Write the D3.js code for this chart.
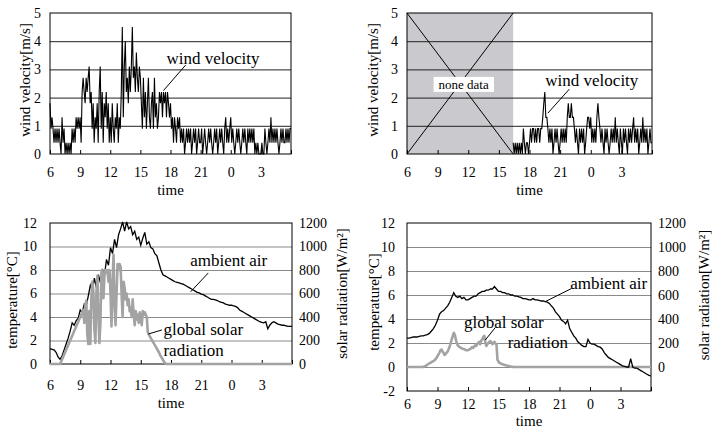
<!DOCTYPE html>
<html>
<head>
<meta charset="utf-8">
<script src="https://cdn.jsdelivr.net/npm/d3@7"></script>
<style>
  body { margin: 0; background: #fff; }
  svg { display: block; }
</style>
</head>
<body>
<svg id="chart" width="713" height="428"></svg>
<script>
// time axis (hours after midnight of day 1, 24 = 0:00 of day 2)
const hourTicks = [6, 9, 12, 15, 18, 21, 24, 27, 30];
const hourLabels = ["6", "9", "12", "15", "18", "21", "0", "3", ""];
const windTicks = [0, 1, 2, 3, 4, 5];
const tempTicksA = [0, 2, 4, 6, 8, 10, 12];
const tempTicksB = [-2, 0, 2, 4, 6, 8, 10, 12];
const solarTicks = [0, 200, 400, 600, 800, 1000, 1200];

// wind velocity [m/s], one sample per 0.1 h
const windStep = 0.1;
const windAStart = 6;
const windA = [
  1.8, 0.9, 1.3, 0.9, 0.4, 0.9, 0.4, 0.9, 0.4, 0.9,
  0.4, 0, 1.3, 0.4, 0.9, 0, 0.4, 0, 0.4, 0,
  0.4, 0, 0.9, 0.4, 0.9, 0.4, 1.3, 0.9, 1.3, 0.9,
  1.3, 0.4, 2.2, 2.7, 2.2, 1.8, 2.7, 2.2, 2.7, 3.1,
  1.8, 2.2, 0.9, 1.8, 0.4, 1.3, 0.9, 1.8, 0.4, 2.2,
  3.1, 0.9, 2.2, 0.4, 1.8, 1.3, 2.2, 0.9, 1.8, 0.4,
  1.3, 0.4, 1.8, 0.9, 0.4, 1.3, 0.9, 1.8, 0.4, 1.3,
  0.9, 2.2, 4.5, 1.3, 3.1, 4.0, 2.2, 2.7, 1.8, 3.1,
  2.2, 3.1, 4.5, 2.7, 3.1, 2.2, 3.6, 2.7, 2.2, 3.1,
  2.7, 1.8, 0.9, 2.7, 1.3, 2.2, 0.9, 1.8, 2.7, 1.3,
  0.9, 1.8, 2.2, 0.9, 2.7, 1.3, 1.8, 0.9, 1.3, 2.2,
  1.8, 2.2, 1.3, 2.2, 1.8, 2.2, 1.3, 2.2, 1.8, 1.3,
  1.8, 0.9, 1.3, 0.4, 1.3, 0.9, 0.4, 1.3, 0.9, 1.3,
  0.4, 0.9, 0.4, 0.9, 0, 0.4, 0.9, 0.4, 0.9, 0.4,
  0.9, 0, 0.4, 0.9, 0.4, 0.9, 0, 0.4, 0.9, 0.4,
  0.4, 0.9, 0, 0.4, 0.9, 0.4, 0, 0.4, 0.9, 0.4,
  0.9, 0.4, 0, 0.4, 0.9, 0.4, 0.9, 0, 0.4, 0.9,
  0.4, 0.9, 0.4, 0, 0.9, 1.3, 0.4, 0.9, 0.4, 0.9,
  1.3, 0.4, 0.9, 0.4, 0, 0.4, 0.9, 0.4, 0.9, 0.4,
  0, 0.4, 0.9, 0.4, 0.9, 0.4, 0, 0.9, 0.4, 0.9,
  0.4, 0.9, 0.4, 0.9, 0, 0.4, 0, 0.4, 0, 0,
  0, 0.4, 0, 0, 0.9, 0.4, 0, 0.4, 0.9, 0.4,
  1.3, 0.4, 0.9, 0.4, 0.9, 0.4, 0.9, 0.4, 0, 0.4,
  0.9, 0.4, 0.9, 0.4, 0.4, 0.9, 0.4, 0.9, 0.4, 0.9,
  0.9
];

// second day: no record before 16.4 h
const noneDataEnd = 16.4;
const windBStart = 16.4;
const windB = [
  0.4, 0, 0.4, 0, 0.4, 0,
  0.4, 0, 0.4, 0, 0.9, 0.4, 0, 0.4, 0.4, 0,
  0.4, 0.9, 0.4, 0.9, 0.9, 0.4, 0.9, 0.4, 0.9, 0.9,
  0.4, 0.9, 0.9, 1.3, 1.8, 2.2, 1.3, 1.3, 0.9, 0.4,
  0.9, 0.4, 0.9, 0, 0.4, 0.9, 0.4, 0.9, 0.4, 0,
  0.4, 0.9, 0.4, 0.9, 0.4, 0.9, 0.4, 1.3, 1.8, 1.3,
  1.3, 1.8, 1.3, 1.3, 0.9, 0.4, 0.9, 0.4, 0, 0.9,
  0.4, 0.9, 0.4, 0.9, 0, 0.4, 0.9, 1.3, 1.3, 0.9,
  1.3, 0.4, 0.9, 0.4, 0.9, 0.4, 1.3, 1.8, 1.3, 0.9,
  0.4, 0.9, 0.4, 0, 0.9, 0.4, 0.9, 0.4, 0, 0.4,
  0.9, 0.4, 0.9, 0.4, 1.3, 0.4, 0.9, 0.4, 0, 0.9,
  0.4, 0, 0.9, 0.4, 0.9, 0.4, 0, 0.9, 0.4, 0.9,
  0.4, 0.9, 1.3, 0.4, 0.9, 0.4, 0.9, 0, 0.4, 0.9,
  0.4, 1.3, 0.4, 0.9, 0.4, 0.9, 0, 0.4, 0.9, 0.4,
  0.4
];

// ambient air temperature [°C], one sample per 0.2 h from 6 h
const tempStep = 0.2;
const tempA = [
  1.3, 1.25, 1.2, 1.0, 0.6,
  0.4, 0.7, 1.2, 1.7, 2.2,
  2.8, 3.5, 3.3, 3.7, 3.9,
  4.6, 4.4, 5.1, 5.0, 5.8,
  6.7, 6.2, 7.3, 6.5, 7.6,
  6.9, 8.1, 7.5, 8.9, 8.4,
  9.9, 9.4, 10.6, 9.9, 11.0,
  11.5, 12.1, 11.3, 12.1, 11.5,
  11.7, 11.0, 11.3, 10.6, 10.8,
  10.1, 10.7, 11.2, 10.2, 10.4,
  9.9, 9.8, 9.4, 9.2, 8.6,
  8.0, 7.6, 7.5, 7.4, 7.3,
  7.2, 7.1, 7.0, 6.95, 6.9,
  6.85, 6.8, 6.7, 6.6, 6.5,
  6.4, 6.3, 6.2, 6.1, 6.05,
  5.95, 5.9, 5.8, 5.7, 5.6,
  5.5, 5.5, 5.45, 5.4, 5.3,
  5.25, 5.2, 5.1, 5.05, 5.0,
  5.0, 4.95, 4.9, 4.8, 4.6,
  4.5, 4.4, 4.3, 4.2, 4.1,
  4.0, 3.9, 3.8, 3.7, 3.6,
  3.55, 3.5, 3.6, 3.0, 3.3,
  3.5, 3.6, 3.5, 3.4, 3.35,
  3.3, 3.3, 3.25, 3.2, 3.2,
  3.2
];
const tempB = [
  2.4, 2.4, 2.45, 2.5, 2.5,
  2.5, 2.55, 2.6, 2.6, 2.65,
  2.7, 2.8, 3.0, 3.2, 3.5,
  3.9, 4.4, 4.6, 4.7, 4.9,
  5.1, 5.4, 5.8, 6.2, 5.9,
  5.8, 5.9, 5.7, 5.8, 5.6,
  5.6, 5.7, 5.8, 5.9, 5.9,
  6.1, 6.2, 6.3, 6.3, 6.4,
  6.4, 6.5, 6.5, 6.7, 6.5,
  6.3, 6.3, 6.2, 6.2, 6.1,
  6.1, 6.0, 6.0, 5.9, 5.9,
  5.85, 5.8, 5.7, 5.7, 5.65,
  5.6, 5.6, 5.7, 5.6, 5.6,
  5.55, 5.5, 5.5, 5.45, 5.4,
  5.3, 5.1, 4.9, 4.6, 4.4,
  4.2, 3.9, 3.8, 3.6, 3.9,
  3.2, 2.9, 2.6, 2.4, 2.1,
  1.95, 1.8, 1.7, 1.7, 2.3,
  2.0, 1.9, 1.9, 1.8, 1.7,
  1.65, 1.5, 1.2, 1.0, 0.8,
  0.7, 0.6, 0.5, 0.4, 0.3,
  0.2, 0.1, 0.05, 0.0, 0.0,
  0.7, 0.0, -0.1, -0.1, -0.2,
  -0.3, -0.4, -0.5, -0.6, -0.7,
  -0.75
];

// global solar radiation [W/m2], one sample per 0.1 h from 6 h, zero after
const solarStep = 0.1;
const solarEnd = 30;
const solarA = [
  0, 0, 0, 0, 0, 0, 0, 0, 0, 0,
  0, 20, 40, 60, 80, 100, 120, 140, 160, 180,
  200, 220, 240, 260, 280, 300, 320, 340, 360, 380,
  400, 420, 440, 460, 350, 500, 540, 250, 170, 450,
  170, 560, 700, 620, 300, 180, 600, 750, 400, 180,
  350, 780, 800, 560, 750, 800, 780, 800, 700, 800,
  600, 320, 700, 930, 500, 330, 600, 850, 800, 850,
  830, 600, 400, 700, 650, 550, 600, 500, 550, 450,
  480, 400, 550, 420, 330, 450, 380, 420, 350, 440,
  400, 330, 450, 420, 440, 420, 400, 270, 250, 235,
  220, 205, 190, 175, 160, 145, 130, 115, 100, 80,
  65, 50, 35, 20, 10, 0, 0, 0, 0, 0,
  0
];
const solarB = [
  0, 0, 0, 0, 0, 0, 0, 0, 0, 0,
  0, 0, 0, 0, 0, 0, 0, 5, 8, 12,
  20, 25, 30, 35, 40, 45, 50, 55, 65, 75,
  90, 105, 120, 140, 145, 130, 115, 100, 110, 120,
  130, 150, 170, 200, 230, 260, 285, 270, 230, 200,
  180, 170, 165, 160, 155, 150, 150, 145, 140, 140,
  140, 145, 150, 155, 165, 160, 170, 180, 175, 190,
  200, 210, 190, 220, 230, 250, 260, 210, 175, 190,
  200, 210, 215, 205, 190, 200, 210, 195, 190, 60,
  45, 35, 30, 25, 22, 20, 17, 15, 12, 10,
  8, 6, 4, 2, 1, 0, 0, 0, 0, 0,
  0
];

const FONT = '"Liberation Serif", "Times New Roman", serif';
const svg = d3.select("#chart");

function toPoints(values, start, step) {
  return values.map((v, i) => ({ t: start + i * step, v: v }));
}

function drawPanel(box, spec) {
  const w = box.right - box.left;
  const x = d3.scaleLinear().domain([6, 30]).range([box.left, box.right]);
  const y = d3.scaleLinear().domain(spec.yDomain).range([box.bottom, box.top]);
  const g = svg.append("g");

  if (spec.under) spec.under(g, x, y);

  // horizontal grid lines
  g.append("g")
    .attr("transform", "translate(" + box.left + ",0)")
    .call(d3.axisLeft(y)
      .tickValues(spec.yTicks.filter(d => d > spec.yDomain[0] && d < spec.yDomain[1]))
      .tickSize(-w).tickFormat(""))
    .call(a => a.select(".domain").remove())
    .selectAll("line").attr("stroke", spec.gridColor);

  // y tick labels
  g.append("g")
    .attr("transform", "translate(" + box.left + ",0)")
    .call(d3.axisLeft(y).tickValues(spec.yTicks).tickFormat(d => String(d))
      .tickSize(0).tickPadding(spec.yPad))
    .call(a => a.select(".domain").remove())
    .attr("font-family", FONT).attr("font-size", 14);

  // time axis, ticks pointing inwards
  g.append("g")
    .attr("transform", "translate(0," + box.bottom + ")")
    .call(d3.axisBottom(x).tickValues(hourTicks)
      .tickFormat((d, i) => hourLabels[i])
      .tickSizeInner(-4).tickSizeOuter(0).tickPadding(spec.xPad))
    .call(a => a.select(".domain").remove())
    .attr("font-family", FONT).attr("font-size", 14);

  // frame
  g.append("rect")
    .attr("x", box.left).attr("y", box.top)
    .attr("width", w).attr("height", box.bottom - box.top)
    .attr("fill", "none").attr("stroke", "#000");

  g.append("text")
    .attr("x", (box.left + box.right) / 2).attr("y", spec.timeY)
    .attr("dy", "0.35em").attr("text-anchor", "middle")
    .attr("font-family", FONT).attr("font-size", 15)
    .text("time");

  g.append("text")
    .attr("transform", "translate(" + spec.titleX + "," + spec.titleY + ")rotate(-90)")
    .attr("dy", "0.35em").attr("text-anchor", "middle")
    .attr("font-family", FONT).attr("font-size", 15)
    .text(spec.title);

  return { g: g, x: x, y: y };
}

function addSolarAxis(p, box, titleX) {
  const ys = d3.scaleLinear().domain([0, 1200]).range([p.y(0), p.y(12)]);
  p.g.append("g")
    .attr("transform", "translate(" + box.right + ",0)")
    .call(d3.axisRight(ys).tickValues(solarTicks).tickFormat(d => String(d))
      .tickSize(0).tickPadding(7))
    .call(a => a.select(".domain").remove())
    .attr("font-family", FONT).attr("font-size", 14);
  p.g.append("text")
    .attr("transform", "translate(" + titleX + "," + ((p.y(0) + p.y(12)) / 2) + ")rotate(-90)")
    .attr("dy", "0.35em").attr("text-anchor", "middle")
    .attr("font-family", FONT).attr("font-size", 15)
    .text("solar radiation[W/m²]");
  return ys;
}

function note(p, lines, tx, ty, from, to) {
  const t = p.g.append("text")
    .attr("font-family", FONT).attr("font-size", 17);
  lines.forEach((s, i) => {
    t.append("tspan").attr("x", p.x(tx[i])).attr("y", p.y(ty[i])).attr("dy", "0.35em").text(s);
  });
  p.g.append("line")
    .attr("x1", p.x(from[0])).attr("y1", p.y(from[1]))
    .attr("x2", p.x(to[0])).attr("y2", p.y(to[1]))
    .attr("stroke", "#000").attr("stroke-width", 1);
}

const seriesLine = (x, y) => d3.line().x(d => x(d.t)).y(d => y(d.v));

// ---- top left: wind velocity, day 1
const boxA = { left: 50, right: 291, top: 13, bottom: 154 };
const pA = drawPanel(boxA, {
  yDomain: [0, 5], yTicks: windTicks, gridColor: "#222", yPad: 9, xPad: 13,
  timeY: 190, titleX: 25, titleY: 80, title: "wind velocity[m/s]"
});
pA.g.append("path")
  .datum(toPoints(windA, windAStart, windStep))
  .attr("d", seriesLine(pA.x, pA.y))
  .attr("fill", "none").attr("stroke", "#000").attr("stroke-width", 1.1);
note(pA, ["wind velocity"], [17.6], [3.4], [19.5, 3.15], [17.3, 2.25]);

// ---- top right: wind velocity, day 2 with missing record
const boxB = { left: 407, right: 652, top: 13, bottom: 154 };
const pB = drawPanel(boxB, {
  yDomain: [0, 5], yTicks: windTicks, gridColor: "#222", yPad: 9, xPad: 13,
  timeY: 190, titleX: 373, titleY: 80, title: "wind velocity[m/s]",
  under: (g, x, y) => {
    g.append("rect")
      .attr("x", x(6)).attr("y", y(5))
      .attr("width", x(noneDataEnd) - x(6)).attr("height", y(0) - y(5))
      .attr("fill", "#c9c9ce");
  }
});
[[0, 5], [5, 0]].forEach(e => {
  pB.g.append("line")
    .attr("x1", pB.x(6)).attr("y1", pB.y(e[0]))
    .attr("x2", pB.x(noneDataEnd)).attr("y2", pB.y(e[1]))
    .attr("stroke", "#000");
});
const noneText = pB.g.append("text")
  .attr("x", pB.x(11.55)).attr("y", pB.y(2.47)).attr("dy", "0.35em")
  .attr("text-anchor", "middle")
  .attr("font-family", FONT).attr("font-size", 13)
  .text("none data");
const nb = noneText.node().getBBox();
pB.g.insert("rect", () => noneText.node())
  .attr("x", nb.x - 5).attr("y", nb.y)
  .attr("width", nb.width + 10).attr("height", nb.height)
  .attr("fill", "#fff");
pB.g.append("path")
  .datum(toPoints(windB, windBStart, windStep))
  .attr("d", seriesLine(pB.x, pB.y))
  .attr("fill", "none").attr("stroke", "#000").attr("stroke-width", 1.1);
note(pB, ["wind velocity"], [19.55], [2.62], [21.9, 2.3], [19.8, 1.45]);

// ---- bottom left: temperature and solar radiation, day 1
const boxC = { left: 50, right: 292, top: 223, bottom: 364 };
const pC = drawPanel(boxC, {
  yDomain: [0, 12], yTicks: tempTicksA, gridColor: "#8a8a8a", yPad: 13, xPad: 16,
  timeY: 403, titleX: 12, titleY: 300, title: "temperature[°C]"
});
const ysC = addSolarAxis(pC, boxC, 342);
pC.g.append("path")
  .datum(toPoints(tempA, 6, tempStep))
  .attr("d", seriesLine(pC.x, pC.y))
  .attr("fill", "none").attr("stroke", "#000").attr("stroke-width", 1.3);
pC.g.append("path")
  .datum(toPoints(solarA, 6, solarStep).concat([{ t: solarEnd, v: 0 }]))
  .attr("d", seriesLine(pC.x, ysC))
  .attr("fill", "none").attr("stroke", "#a3a3a3").attr("stroke-width", 2.6)
  .attr("stroke-linejoin", "round");
note(pC, ["ambient air"], [19.9], [8.87], [21.7, 7.75], [19.95, 6.15]);
note(pC, ["global solar", "radiation"], [17.25, 17.25], [2.99, 1.2], [17.1, 2.9], [15.75, 2.55]);

// ---- bottom right: temperature and solar radiation, day 2
const boxD = { left: 407, right: 651, top: 223, bottom: 391 };
const pD = drawPanel(boxD, {
  yDomain: [-2, 12], yTicks: tempTicksB, gridColor: "#8a8a8a", yPad: 12, xPad: 8,
  timeY: 421, titleX: 374, titleY: 302, title: "temperature[°C]"
});
const ysD = addSolarAxis(pD, boxD, 704);
pD.g.append("path")
  .datum(toPoints(solarB, 6, solarStep).concat([{ t: solarEnd, v: 0 }]))
  .attr("d", seriesLine(pD.x, ysD))
  .attr("fill", "none").attr("stroke", "#a3a3a3").attr("stroke-width", 2.6)
  .attr("stroke-linejoin", "round");
pD.g.append("path")
  .datum(toPoints(tempB, 6, tempStep))
  .attr("d", seriesLine(pD.x, pD.y))
  .attr("fill", "none").attr("stroke", "#000").attr("stroke-width", 1.3);
note(pD, ["ambient air"], [22.05], [6.99], [22.2, 6.55], [19.6, 5.45]);
note(pD, ["global solar", "radiation"], [11.6, 15.9], [3.78, 2.11], [14.7, 3.3], [13.7, 2.25]);
</script>
</body>
</html>
